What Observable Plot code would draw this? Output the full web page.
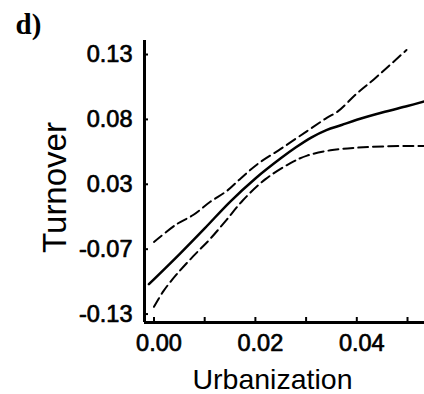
<!DOCTYPE html>
<html>
<head>
<meta charset="utf-8">
<script src="https://cdn.jsdelivr.net/npm/d3@7"></script>
<script src="https://cdn.jsdelivr.net/npm/@observablehq/plot@0.6"></script>
<style>
  body { margin: 0; background: #fff; }
</style>
</head>
<body>
<div id="chart"></div>
<script>
// Fitted curve (solid)
const fitX = [-0.001, 0.005, 0.010, 0.015, 0.020, 0.025, 0.028, 0.031, 0.034, 0.037, 0.040, 0.045, 0.050, 0.0533];
const fitY = [-0.047, -0.024, -0.004, 0.0165, 0.0345, 0.0500, 0.0585, 0.0660, 0.0718, 0.0757, 0.0797, 0.0853, 0.0903, 0.0938];

// Upper confidence band (dashed)
const upperX = [0.0000, 0.0045, 0.0078, 0.0111, 0.0144, 0.0171, 0.0204, 0.0250, 0.0302, 0.0340, 0.0362, 0.0400, 0.0434, 0.0498];
const upperY = [-0.0144, -0.0007, 0.0065, 0.0165, 0.0250, 0.0345, 0.0455, 0.0573, 0.0710, 0.0810, 0.0860, 0.0999, 0.1110, 0.1335];

// Lower confidence band (dashed)
const lowerX = [0.0000, 0.0019, 0.0045, 0.0078, 0.0111, 0.0144, 0.0175, 0.0220, 0.0270, 0.0302, 0.0348, 0.0400, 0.0460, 0.0532];
const lowerY = [-0.0644, -0.0521, -0.0393, -0.0252, -0.0120, 0.0030, 0.0175, 0.0340, 0.0465, 0.0521, 0.0562, 0.0582, 0.0593, 0.0596];

// Axes
const xTicks = [0, 0.01, 0.02, 0.03, 0.04, 0.05];
const xLabelTicks = [0, 0.02, 0.04];
const yTicks = [-0.07, -0.02, 0.03, 0.08, 0.13];
const yTickLabels = ["-0.13", "-0.07", "0.03", "0.08", "0.13"];
const xDomain = [-0.00187, 0.05335];
const yDomain = [-0.0765, 0.1408];

const panelLabel = "d)";
const xTitle = "Urbanization";
const yTitle = "Turnover";

const toRows = (xs, ys) => xs.map((x, i) => ({x, y: ys[i]}));

const chart = Plot.plot({
  width: 424,
  height: 394,
  marginLeft: 144,
  marginRight: 0,
  marginTop: 40,
  marginBottom: 72,
  style: {fontFamily: "'Liberation Sans', Arial, sans-serif", background: "white", color: "black"},
  x: {domain: xDomain, label: null},
  y: {domain: yDomain, label: null},
  marks: [
    Plot.line(toRows(upperX, upperY), {x: "x", y: "y", stroke: "black", strokeWidth: 2, strokeDasharray: "10,5", curve: "catmull-rom"}),
    Plot.line(toRows(lowerX, lowerY), {x: "x", y: "y", stroke: "black", strokeWidth: 2, strokeDasharray: "10,5", curve: "catmull-rom"}),
    Plot.line(toRows(fitX, fitY), {x: "x", y: "y", stroke: "black", strokeWidth: 2.5, curve: "catmull-rom"}),
    Plot.axisY(yTicks, {anchor: "left", tickSize: -4, tickPadding: 16, strokeWidth: 2, fontSize: 23.5,
      tickFormat: d => yTickLabels[yTicks.indexOf(d)], label: null, textStroke: "black", textStrokeWidth: 0.7}),
    Plot.axisX(xTicks, {anchor: "bottom", tickSize: -5, strokeWidth: 2, tickFormat: () => "", label: null}),
    Plot.axisX(xLabelTicks, {anchor: "bottom", tickSize: 0, tickPadding: 12, fontSize: 23.5, dx: 5,
      tickFormat: d3.format(".2f"), label: null, textStroke: "black", textStrokeWidth: 0.7}),
    Plot.ruleX([xDomain[0]], {stroke: "black", strokeWidth: 3}),
    Plot.ruleY([yDomain[0]], {stroke: "black", strokeWidth: 3}),
    Plot.text([yTitle], {text: d => d, frameAnchor: "left", textAnchor: "middle", lineAnchor: "middle", rotate: -90,
      dx: -89, dy: 6, fontSize: 33, fill: "black"}),
    Plot.text([xTitle], {text: d => d, frameAnchor: "bottom", textAnchor: "middle", lineAnchor: "bottom",
      dx: -12, dy: 66, fontSize: 28.5, fill: "black"}),
    Plot.text([panelLabel], {text: d => d, frameAnchor: "top-left", textAnchor: "start", dx: -129, dy: -27,
      fontSize: 29, fontWeight: "bold", fontFamily: "'Liberation Serif', 'Times New Roman', serif", fill: "black"})
  ]
});
document.getElementById("chart").appendChild(chart);
</script>
</body>
</html>
